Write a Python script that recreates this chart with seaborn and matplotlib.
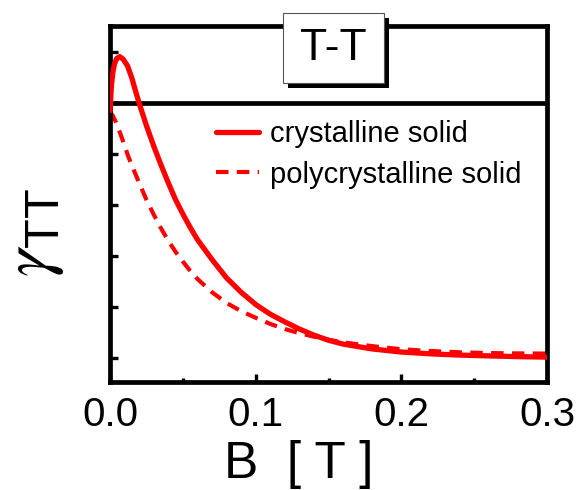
import pandas as pd
import seaborn as sns
import matplotlib.pyplot as plt
from matplotlib.patches import Rectangle

# values
b_cryst = [0.0, 0.001, 0.002, 0.003, 0.0045, 0.0067, 0.009, 0.012, 0.015, 0.018,
           0.021, 0.025, 0.03, 0.035, 0.04, 0.045, 0.05, 0.055, 0.06, 0.07,
           0.08, 0.09, 0.10, 0.11, 0.12, 0.13, 0.14, 0.15, 0.16, 0.18,
           0.20, 0.22, 0.24, 0.26, 0.28, 0.30]
g_cryst = [4.84, 5.35, 5.60, 5.75, 5.86, 5.90, 5.85, 5.72, 5.48, 5.18,
           4.90, 4.55, 4.15, 3.78, 3.43, 3.10, 2.82, 2.56, 2.32, 1.93,
           1.57, 1.29, 1.05, 0.86, 0.71, 0.57, 0.45, 0.35, 0.275, 0.18,
           0.12, 0.085, 0.06, 0.045, 0.03, 0.02]

b_poly = [0.0, 0.002, 0.004, 0.007, 0.01, 0.0125, 0.015, 0.02, 0.025, 0.03,
          0.035, 0.04, 0.045, 0.05, 0.055, 0.06, 0.07, 0.08, 0.09, 0.10,
          0.11, 0.12, 0.13, 0.14, 0.15, 0.16, 0.18, 0.19, 0.20, 0.22,
          0.24, 0.26, 0.28, 0.30]
g_poly = [4.82, 4.74, 4.62, 4.40, 4.16, 3.95, 3.77, 3.43, 3.10, 2.81,
          2.54, 2.30, 2.08, 1.89, 1.71, 1.55, 1.29, 1.08, 0.92, 0.79,
          0.67, 0.57, 0.49, 0.42, 0.36, 0.31, 0.235, 0.205, 0.175, 0.14,
          0.115, 0.10, 0.093, 0.09]

ref_level = 5.0
x_ticks = [0.0, 0.1, 0.2, 0.3]
x_minor = [0.05, 0.15, 0.25]
y_ticks = [0, 1, 2, 3, 4, 5, 6]

cryst = pd.DataFrame({'B': b_cryst, 'gamma': g_cryst})
poly = pd.DataFrame({'B': b_poly, 'gamma': g_poly})

sns.set_style('ticks')
plt.rcParams['font.family'] = ['Liberation Sans', 'DejaVu Sans']
plt.rcParams['text.color'] = 'black'
plt.rcParams['axes.labelcolor'] = 'black'
plt.rcParams['mathtext.fontset'] = 'custom'
plt.rcParams['mathtext.rm'] = 'Liberation Sans'
plt.rcParams['mathtext.it'] = 'STIXGeneral:italic'

fig = plt.figure(figsize=(5.79, 4.9), dpi=100)
ax = fig.add_axes([0.190, 0.220, 0.755, 0.727])

ax.axhline(ref_level, color='black', lw=3.4, zorder=1)
sns.lineplot(data=cryst, x='B', y='gamma', ax=ax, color='#ff0000', lw=3.8,
             estimator=None, label='crystalline solid', zorder=3)
sns.lineplot(data=poly, x='B', y='gamma', ax=ax, color='#ff0000', lw=3.0,
             estimator=None, label='polycrystalline solid', zorder=2)
ax.lines[-1].set_dashes((3, 2))

ax.set_xlim(0.0, 0.3)
ax.set_ylim(-0.47, 6.5)
ax.set_xticks(x_ticks)
ax.set_xticklabels(['0.0', '0.1', '0.2', '0.3'])
ax.set_xticks(x_minor, minor=True)
ax.set_yticks(y_ticks)
ax.set_yticklabels([])
ax.tick_params(which='both', direction='in', width=2.4, color='black',
               labelcolor='black')
ax.tick_params(which='major', length=6, labelsize=29, pad=10)
ax.tick_params(which='minor', length=3)
ax.tick_params(axis='y', length=6)
for sp in ax.spines.values():
    sp.set_linewidth(3.4)
    sp.set_color('black')
    sp.set_visible(True)

ax.set_xlabel('B  [ T ]', fontsize=37)
ax.xaxis.set_label_coords(0.432, -0.163)
ax.set_ylabel(r'$\gamma_{\mathrm{TT}}$', fontsize=50)
ax.yaxis.set_label_coords(-0.10, 0.42)

leg = ax.legend(loc='upper left', bbox_to_anchor=(0.243, 0.735), frameon=False,
                fontsize=21, handlelength=1.45, handletextpad=0.4,
                labelspacing=0.42, borderpad=0, borderaxespad=0)
leg.get_lines()[1].set_dashes((3, 2))

# boxed panel title with drop shadow
W, H = 579, 490
fig.patches.append(Rectangle((288 / W, 1 - 88 / H), 101 / W, 70 / H,
                             transform=fig.transFigure, facecolor='black',
                             edgecolor='black', lw=0))
fig.patches.append(Rectangle((283 / W, 1 - 83 / H), 101 / W, 70 / H,
                             transform=fig.transFigure, facecolor='white',
                             edgecolor='#555555', lw=0.8))
fig.text(333.5 / W, 1 - 48 / H, 'T-T', fontsize=32, ha='center', va='center')

plt.savefig('out.png', dpi=100)
